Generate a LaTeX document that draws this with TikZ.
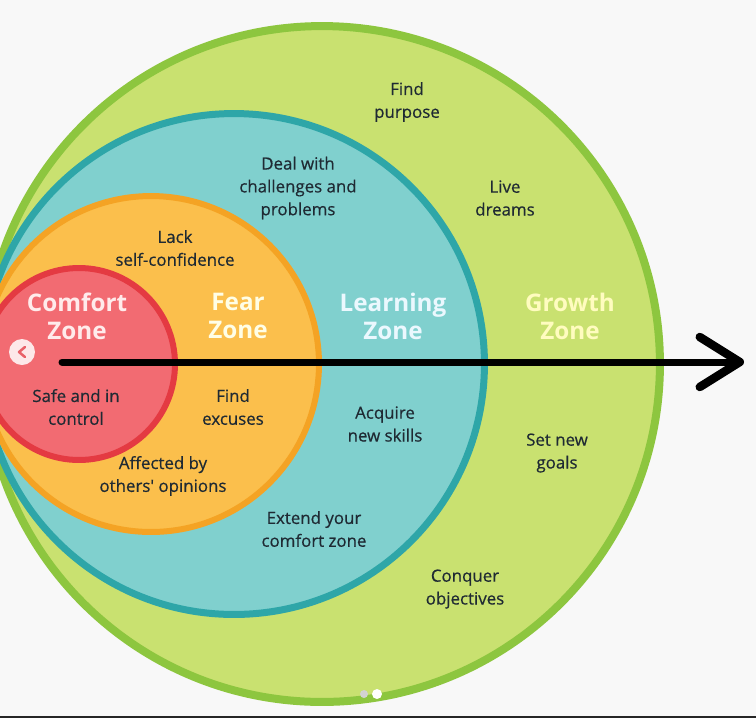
\documentclass[tikz,border=0pt]{standalone}
\usepackage{fontspec}
\setmainfont{Open Sans}
\newfontfamily\medfont[FakeBold=0.5]{Open Sans}
\usepackage{xcolor}
\usetikzlibrary{arrows.meta}

\definecolor{pagebg}{HTML}{F8F8F8}
\definecolor{growthfill}{HTML}{C9E170}
\definecolor{growthline}{HTML}{8DC63F}
\definecolor{learnfill}{HTML}{80D0CE}
\definecolor{learnline}{HTML}{2EA6A8}
\definecolor{fearfill}{HTML}{FBBF4C}
\definecolor{fearline}{HTML}{F4A324}
\definecolor{comfortfill}{HTML}{F26B72}
\definecolor{comfortline}{HTML}{E43A42}
\definecolor{ink}{HTML}{1F2A33}

\begin{document}
\begin{tikzpicture}[x=0.02cm,y=-0.02cm,
  txt/.style={align=center,text=ink,font=\medfont\fontsize{9.6}{13}\selectfont},
  ttl/.style={align=center,font=\bfseries\fontsize{13.8}{15.9}\selectfont}]
  \useasboundingbox (0,0) rectangle (756,718);
  \fill[pagebg] (0,0) rectangle (756,718);
  % zones, all touching on the left
  \foreach \cx/\r/\lw/\fc/\bc in {322/6.76/0.16/growthfill/growthline,
      234/5.01/0.14/learnfill/learnline,
      151/3.36/0.12/fearfill/fearline,
      79/1.92/0.12/comfortfill/comfortline}{
    \filldraw[fill=\fc,draw=\bc,line width=\lw cm] (\cx,364) circle[radius=\r cm];
  }
  \node[ttl,text=white!92!red] (comfort) at (77,316) {Comfort\\Zone};
  \node[ttl,text=white!90!yellow] (fear) at (238,316) {Fear\\Zone};
  \node[ttl,text=white!92!cyan] (learning) at (393,316) {Learning\\Zone};
  \node[ttl,text=white!75!yellow] (growth) at (570,316) {Growth\\Zone};

  \node[txt] (purpose) at (407,102) {Find\\purpose};
  \node[txt] (deal) at (298,188) {Deal with\\challenges and\\problems};
  \node[txt] (dreams) at (505,198) {Live\\dreams};
  \node[txt] (lack) at (175,248) {Lack\\self-confidence};
  \node[txt] (safe) at (76,407) {Safe and in\\control};
  \node[txt] (excuses) at (233,407) {Find\\excuses};
  \node[txt] (skills) at (385,424) {Acquire\\new skills};
  \node[txt] (goals) at (557,453) {Set new\\goals};
  \node[txt] (opinions) at (163,476) {Affected by\\others' opinions};
  \node[txt] (extend) at (314,529) {Extend your\\comfort zone};
  \node[txt] (conquer) at (465,589) {Conquer\\objectives};

  \coordinate (start) at (62,362);
  \coordinate (tip) at (744,362);
  \draw[line width=0.14cm,line cap=round,
    -{Straight Barb[length=0.8cm,width=1.0cm,round,line width=0.17cm]}] (start) -- (tip);

  % screenshot controls
  \node[circle,fill=white,fill opacity=0.85,minimum size=0.52cm,inner sep=0pt] (back) at (22,352) {};
  \draw[comfortline!80,line width=0.05cm,line cap=round,line join=round]
    ([shift={(3,-5)}]back.center) -- ([shift={(-3,0)}]back.center) -- ([shift={(3,5)}]back.center);
  \fill[gray!35] (364,694) circle[radius=0.08cm];
  \fill[white] (377,694) circle[radius=0.1cm];
  \fill[black!85] (0,716) rectangle (756,718);
\end{tikzpicture}
\end{document}
